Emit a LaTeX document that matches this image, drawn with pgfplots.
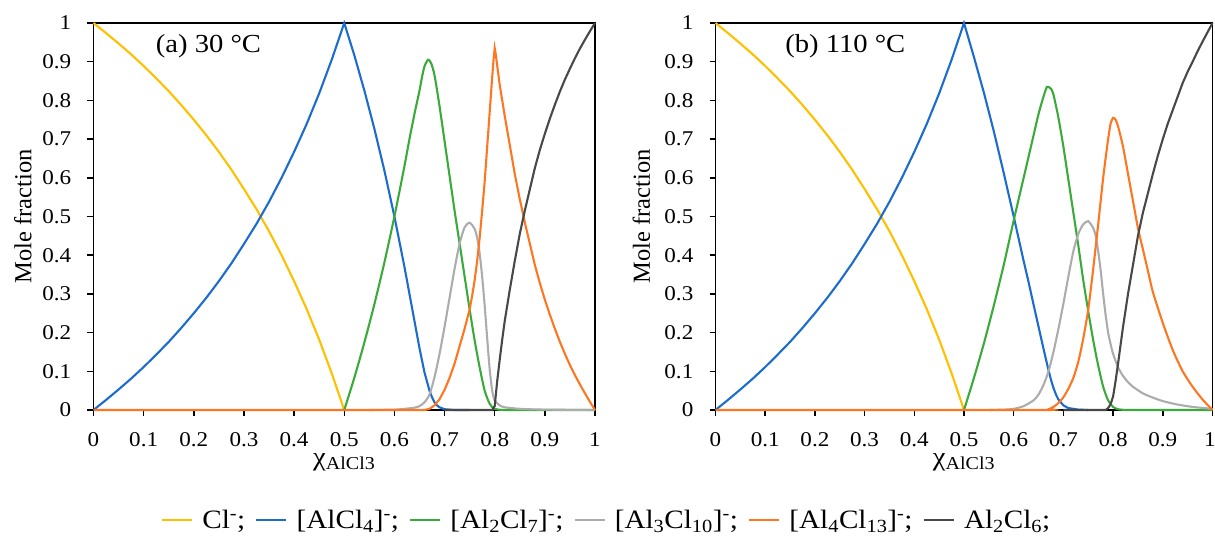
\documentclass[border=0pt]{standalone}
\usepackage{fontspec}
\setmainfont{Liberation Serif}[FakeStretch=1.1]
\newfontfamily\plainserif{Liberation Serif}
\usepackage{pgfplots}
\pgfplotsset{compat=1.18}

\definecolor{cyellow}{RGB}{255,192,0}
\definecolor{cblue}{RGB}{28,108,206}
\definecolor{cgreen}{RGB}{58,170,58}
\definecolor{cgray}{RGB}{172,172,172}
\definecolor{corange}{RGB}{255,118,32}
\definecolor{cblack}{RGB}{72,72,72}

\pgfplotsset{
  mystyle/.style={
    scale only axis, height=387pt,
    xmin=0, xmax=1, ymin=0, ymax=1,
    axis line style={line width=1.6pt, black},
    xtick={0,0.1,0.2,0.3,0.4,0.5,0.6,0.7,0.8,0.9,1},
    ytick={0,0.1,0.2,0.3,0.4,0.5,0.6,0.7,0.8,0.9,1},
    yticklabels={0,0.1,0.2,0.3,0.4,0.5,0.6,0.7,0.8,0.9,1},
    tick align=outside, xtick pos=left, ytick pos=left,
    major tick length=6pt,
    tick style={line width=1.5pt, black},
    tick label style={font=\fontsize{21}{24}\selectfont},
    yticklabel style={anchor=east, inner sep=0pt, xshift=-16pt},
    xticklabel style={anchor=north, inner sep=0pt, yshift=-16pt},
    ylabel style={font=\plainserif\fontsize{24.5}{28}\selectfont, anchor=center},
    xlabel style={font=\fontsize{26}{30}\selectfont, at={(axis description cs:0.5,0)}, anchor=north, yshift=-40pt},
    xlabel={χ\textsubscript{AlCl3}},
    ylabel={Mole fraction},
    clip=false,
    every axis plot/.append style={line width=2.1pt, no markers},
  }
}

\begin{document}
\begin{tikzpicture}
\useasboundingbox (0,0) rectangle (1215pt,547pt);

% ---------------- panel (a) 30 C ----------------
\begin{axis}[mystyle, width=501.5pt, at={(93.5pt,137pt)}, anchor=south west,
  xticklabels={0,0.1,0.2,0.3,0.4,0.5,0.6,0.7,0.8,0.9,1},
  ylabel style={at={(axis description cs:-0.141,0.5)}},
  legend columns=6,
  legend style={draw=none, fill=none, at={(1.023,-0.284)}, anchor=center,
    font=\fontsize{26.5}{32}\selectfont,
    /tikz/every odd column/.append style={column sep=7pt},
    /tikz/every even column/.append style={column sep=8pt}},
  legend image code/.code={\draw[#1, line width=2.5pt] (0pt,0pt) -- (30pt,0pt);},
]
\addplot[cyellow] coordinates {(0,1) (0.025,0.974) (0.05,0.947) (0.075,0.919) (0.1,0.889) (0.125,0.857) (0.15,0.824) (0.175,0.788) (0.2,0.750) (0.225,0.710) (0.25,0.667) (0.275,0.621) (0.3,0.571) (0.325,0.519) (0.35,0.462) (0.375,0.400) (0.4,0.333) (0.425,0.261) (0.45,0.182) (0.475,0.095) (0.5,0)};
\addlegendentry{Cl\textsuperscript{-};}
\addplot[cblue] coordinates {(0,0) (0.025,0.026) (0.05,0.053) (0.075,0.081) (0.1,0.111) (0.125,0.143) (0.15,0.176) (0.175,0.212) (0.2,0.250) (0.225,0.290) (0.25,0.333) (0.275,0.379) (0.3,0.429) (0.325,0.481) (0.35,0.538) (0.375,0.600) (0.4,0.667) (0.425,0.739) (0.45,0.818) (0.475,0.905) (0.5,1)
 (0.52,0.917) (0.54,0.826) (0.56,0.727) (0.58,0.619) (0.60,0.5) (0.62,0.37) (0.63,0.30) (0.64,0.23) (0.65,0.16) (0.66,0.097) (0.67,0.05) (0.675,0.033) (0.68,0.02) (0.685,0.012) (0.69,0.007) (0.70,0.002) (0.72,0) (0.75,0)};
\addlegendentry{[AlCl\textsubscript{4}]\textsuperscript{-};}
\addplot[cgreen, smooth, tension=0.4] coordinates {(0.5,0) (0.52,0.083) (0.54,0.174) (0.56,0.273) (0.58,0.381) (0.60,0.5) (0.62,0.63) (0.63,0.70) (0.64,0.765) (0.65,0.825) (0.655,0.86) (0.66,0.888) (0.667,0.905) (0.673,0.897) (0.68,0.865) (0.69,0.785) (0.70,0.695) (0.71,0.605) (0.72,0.515) (0.73,0.43) (0.74,0.345) (0.75,0.26) (0.76,0.18) (0.77,0.11) (0.78,0.05) (0.79,0.016) (0.80,0.003) (0.82,0) (0.9,0) (1.0,0)};
\addlegendentry{[Al\textsubscript{2}Cl\textsubscript{7}]\textsuperscript{-};}
\addplot[cgray, smooth, tension=0.4] coordinates {(0.55,0) (0.60,0.001) (0.62,0.003) (0.64,0.006) (0.65,0.01) (0.66,0.02) (0.67,0.04) (0.68,0.085) (0.69,0.145) (0.70,0.215) (0.71,0.29) (0.72,0.365) (0.73,0.43) (0.74,0.472) (0.75,0.484) (0.76,0.468) (0.765,0.445) (0.77,0.405) (0.775,0.345) (0.78,0.27) (0.785,0.185) (0.79,0.105) (0.795,0.05) (0.80,0.025) (0.81,0.012) (0.82,0.007) (0.85,0.003) (0.9,0.001) (1.0,0)};
\addlegendentry{[Al\textsubscript{3}Cl\textsubscript{10}]\textsuperscript{-};}
\addplot[corange] coordinates {(0,0) (0.66,0) (0.67,0.003) (0.68,0.012) (0.69,0.028) (0.70,0.052) (0.71,0.083) (0.72,0.12) (0.73,0.165) (0.74,0.21) (0.75,0.26) (0.755,0.295) (0.76,0.335) (0.765,0.385) (0.77,0.445) (0.775,0.515) (0.78,0.59) (0.785,0.68) (0.79,0.77) (0.795,0.86) (0.798,0.91) (0.80,0.935) (0.802,0.92) (0.805,0.89) (0.81,0.84) (0.82,0.76) (0.83,0.685) (0.84,0.61) (0.85,0.545) (0.86,0.485) (0.87,0.43) (0.88,0.375) (0.89,0.328) (0.90,0.285) (0.91,0.246) (0.92,0.21) (0.93,0.176) (0.94,0.145) (0.95,0.116) (0.96,0.09) (0.97,0.066) (0.98,0.043) (0.99,0.021) (1.0,0)};
\addlegendentry{[Al\textsubscript{4}Cl\textsubscript{13}]\textsuperscript{-};}
\addplot[cblack] coordinates {(0.70,0) (0.795,0) (0.80,0.01) (0.805,0.075) (0.81,0.13) (0.815,0.182) (0.82,0.23) (0.83,0.31) (0.84,0.385) (0.85,0.455) (0.86,0.515) (0.87,0.57) (0.88,0.625) (0.89,0.672) (0.90,0.714) (0.91,0.753) (0.92,0.789) (0.93,0.823) (0.94,0.854) (0.95,0.882) (0.96,0.909) (0.97,0.934) (0.98,0.957) (0.99,0.979) (1.0,1.0)};
\addlegendentry{Al\textsubscript{2}Cl\textsubscript{6};}
\node[anchor=west, inner sep=0pt, font=\fontsize{26}{30}\selectfont] at (rel axis cs:0.124,0.94) {(a) 30 °C};
\end{axis}

% ---------------- panel (b) 110 C ----------------
\begin{axis}[mystyle, width=497pt, at={(715.5pt,137pt)}, anchor=south west,
  xticklabels={0,0.1,0.2,0.3,0.4,0.5,0.6,0.7,0.8,0.9,\hspace*{-5pt}1},
  ylabel style={at={(axis description cs:-0.149,0.5)}},
]
\addplot[cyellow] coordinates {(0,1) (0.025,0.974) (0.05,0.947) (0.075,0.919) (0.1,0.889) (0.125,0.857) (0.15,0.824) (0.175,0.788) (0.2,0.750) (0.225,0.710) (0.25,0.667) (0.275,0.621) (0.3,0.571) (0.325,0.519) (0.35,0.462) (0.375,0.400) (0.4,0.333) (0.425,0.261) (0.45,0.182) (0.475,0.095) (0.5,0)};
\addplot[cblue] coordinates {(0,0) (0.025,0.026) (0.05,0.053) (0.075,0.081) (0.1,0.111) (0.125,0.143) (0.15,0.176) (0.175,0.212) (0.2,0.250) (0.225,0.290) (0.25,0.333) (0.275,0.379) (0.3,0.429) (0.325,0.481) (0.35,0.538) (0.375,0.600) (0.4,0.667) (0.425,0.739) (0.45,0.818) (0.475,0.905) (0.5,1)
 (0.52,0.912) (0.54,0.82) (0.56,0.72) (0.58,0.612) (0.60,0.5) (0.62,0.385) (0.63,0.33) (0.64,0.272) (0.65,0.215) (0.66,0.158) (0.67,0.103) (0.675,0.078) (0.68,0.057) (0.685,0.04) (0.69,0.027) (0.70,0.012) (0.71,0.005) (0.73,0.001) (0.75,0)};
\addplot[cgreen, smooth, tension=0.4] coordinates {(0.5,0) (0.52,0.083) (0.54,0.172) (0.56,0.27) (0.58,0.375) (0.60,0.49) (0.62,0.60) (0.63,0.655) (0.64,0.71) (0.65,0.765) (0.66,0.81) (0.667,0.835) (0.675,0.83) (0.68,0.815) (0.69,0.755) (0.70,0.68) (0.71,0.595) (0.72,0.51) (0.73,0.425) (0.74,0.335) (0.75,0.255) (0.76,0.18) (0.77,0.115) (0.78,0.06) (0.79,0.025) (0.80,0.008) (0.81,0.002) (0.83,0) (0.9,0) (1.0,0)};
\addplot[cgray, smooth, tension=0.4] coordinates {(0.55,0) (0.58,0.001) (0.60,0.003) (0.62,0.01) (0.64,0.025) (0.65,0.04) (0.66,0.065) (0.67,0.10) (0.68,0.15) (0.69,0.21) (0.70,0.275) (0.71,0.345) (0.72,0.41) (0.73,0.455) (0.74,0.48) (0.75,0.488) (0.76,0.47) (0.765,0.45) (0.77,0.41) (0.775,0.36) (0.78,0.30) (0.785,0.245) (0.79,0.20) (0.795,0.17) (0.80,0.145) (0.81,0.11) (0.82,0.088) (0.83,0.072) (0.84,0.06) (0.86,0.043) (0.88,0.032) (0.90,0.023) (0.93,0.014) (0.96,0.008) (1.0,0.003)};
\addplot[corange, smooth, tension=0.4] coordinates {(0,0) (0.3,0) (0.66,0) (0.67,0.002) (0.68,0.008) (0.69,0.018) (0.70,0.033) (0.71,0.055) (0.72,0.083) (0.73,0.125) (0.74,0.185) (0.75,0.26) (0.76,0.365) (0.77,0.48) (0.78,0.60) (0.79,0.70) (0.795,0.74) (0.80,0.755) (0.805,0.75) (0.81,0.733) (0.82,0.68) (0.83,0.61) (0.84,0.54) (0.85,0.47) (0.86,0.415) (0.87,0.36) (0.88,0.305) (0.90,0.225) (0.92,0.155) (0.94,0.10) (0.96,0.06) (0.98,0.027) (1.0,0)};
\addplot[cblack] coordinates {(0.70,0) (0.785,0) (0.79,0.005) (0.795,0.015) (0.80,0.035) (0.805,0.075) (0.81,0.12) (0.815,0.168) (0.82,0.215) (0.83,0.30) (0.84,0.375) (0.85,0.45) (0.86,0.51) (0.87,0.56) (0.88,0.61) (0.89,0.657) (0.90,0.70) (0.91,0.74) (0.92,0.775) (0.93,0.81) (0.94,0.845) (0.95,0.874) (0.96,0.90) (0.97,0.927) (0.98,0.952) (0.99,0.976) (1.0,1.0)};
\node[anchor=west, inner sep=0pt, font=\fontsize{26}{30}\selectfont] at (rel axis cs:0.14,0.94) {(b) 110 °C};
\end{axis}
\end{tikzpicture}
\end{document}
